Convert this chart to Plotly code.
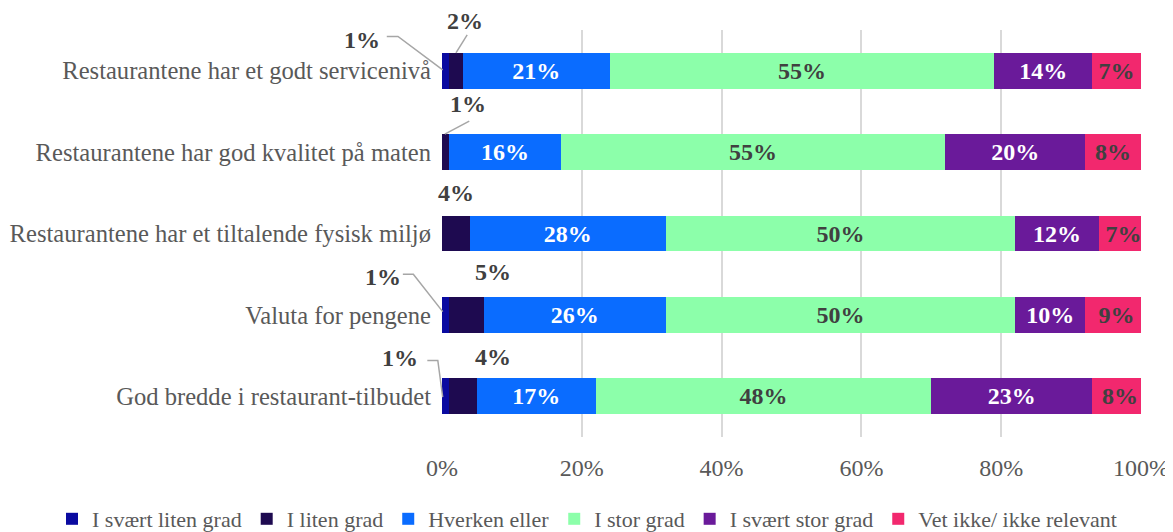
import plotly.graph_objects as go

categories = [
    "Restaurantene har et godt servicenivå",
    "Restaurantene har god kvalitet på maten",
    "Restaurantene har et tiltalende fysisk miljø",
    "Valuta for pengene",
    "God bredde i restaurant-tilbudet",
]
series_names = ["I svært liten grad", "I liten grad", "Hverken eller",
                "I stor grad", "I svært stor grad", "Vet ikke/ ikke relevant"]
svaert_liten = [1, 0, 0, 1, 1]
liten = [2, 1, 4, 5, 4]
hverken = [21, 16, 28, 26, 17]
stor = [55, 55, 50, 50, 48]
svaert_stor = [14, 20, 12, 10, 23]
vet_ikke = [7, 8, 7, 9, 8]
x_ticks = [0, 20, 40, 60, 80, 100]

values = [svaert_liten, liten, hverken, stor, svaert_stor, vet_ikke]
colors = ["#0a0aa0", "#1e0a50", "#0a6cff", "#8cffaa", "#6a1a9a", "#f2286e"]
text_colors = ["white", "white", "white", "#404040", "white", "#404040"]

FONT = "Liberation Serif, Times New Roman, serif"
idx = list(range(len(categories)))
n = len(categories)

fig = go.Figure()
for name, vals, col, tcol in zip(series_names, values, colors, text_colors):
    labels = [f"{v}%" if v >= 7 else "" for v in vals]
    fig.add_trace(go.Bar(
        y=idx, x=vals, name=name, orientation="h",
        marker=dict(color=col, line=dict(width=0)),
        text=labels, textposition="inside", insidetextanchor="middle",
        textangle=0, constraintext="none",
        textfont=dict(family=FONT, size=24, color=tcol, weight="bold"),
        hoverinfo="skip",
    ))


def px_(pct):
    return pct / 100.0


def py_(row, dy):
    return 1.0 - (row + dy + 0.5) / n


# small-segment labels outside the bars: (series, row, label x %, label y offset, leader path)
small_labels = [
    (0, 0, -11.4, -0.38, [(-7.9, -0.42), (-6.3, -0.42), (0.1, -0.01)]),
    (1, 0, 3.3, -0.61, [(3.6, -0.44), (2.0, -0.22)]),
    (1, 1, 3.7, -0.59, [(3.9, -0.38), (0.4, -0.22)]),
    (1, 2, 2.0, -0.50, None),
    (0, 3, -8.4, -0.47, [(-5.6, -0.50), (-4.1, -0.50), (0.1, -0.04)]),
    (1, 3, 7.3, -0.53, None),
    (0, 4, -6.0, -0.47, [(-2.1, -0.44), (-0.6, -0.44), (0.1, 0.01)]),
    (1, 4, 7.3, -0.48, None),
]
annotations = []
shapes = []
for s, r, lx, ly, path in small_labels:
    annotations.append(dict(
        x=px_(lx), y=py_(r, ly), xref="paper", yref="paper",
        text=f"<b>{values[s][r]}%</b>", showarrow=False,
        xanchor="center", yanchor="middle",
        font=dict(family=FONT, size=24, color="#404040"),
    ))
    if path:
        d = "M " + " L ".join(f"{px_(a)},{py_(r, b)}" for a, b in path)
        shapes.append(dict(type="path", path=d, xref="paper", yref="paper",
                           layer="above",
                           line=dict(color="#a6a6a6", width=1.5)))

# the page body adds an 8px offset, so the figure is sized to fit the window
W, H = 1165, 524
ML, MR, MT, MB = 434, 32, 22, 95
plot_w = W - ML - MR
plot_h = H - MT - MB

fig.update_layout(
    barmode="stack",
    bargap=0.56,
    width=W, height=H,
    margin=dict(l=ML, r=MR, t=MT, b=MB, autoexpand=False),
    paper_bgcolor="white", plot_bgcolor="white",
    font=dict(family=FONT, size=24, color="#595959"),
    showlegend=True,
    legend=dict(orientation="h", xref="paper", yref="paper",
                x=(52 - 442) / plot_w, xanchor="left",
                y=(437 - 498) / plot_h, yanchor="top",
                font=dict(family=FONT, size=22, color="#595959"),
                traceorder="normal", itemwidth=30, tracegroupgap=0,
                bgcolor="rgba(0,0,0,0)"),
    annotations=annotations,
    shapes=shapes,
)
fig.update_xaxes(range=[0, 100], tickvals=x_ticks,
                 ticktext=[f"{t}%" for t in x_ticks],
                 showgrid=True, gridcolor="#d9d9d9", gridwidth=2,
                 zeroline=False, showline=False, ticks="", automargin=False,
                 ticklabelstandoff=14,
                 tickfont=dict(family=FONT, size=24, color="#595959"))
fig.update_yaxes(range=[4.5, -0.5], tickvals=idx, ticktext=categories,
                 showgrid=False, zeroline=False, showline=False, ticks="",
                 automargin=False, ticklabelstandoff=10,
                 tickfont=dict(family=FONT, size=24.6, color="#595959"))

fig.write_html("out.html")
